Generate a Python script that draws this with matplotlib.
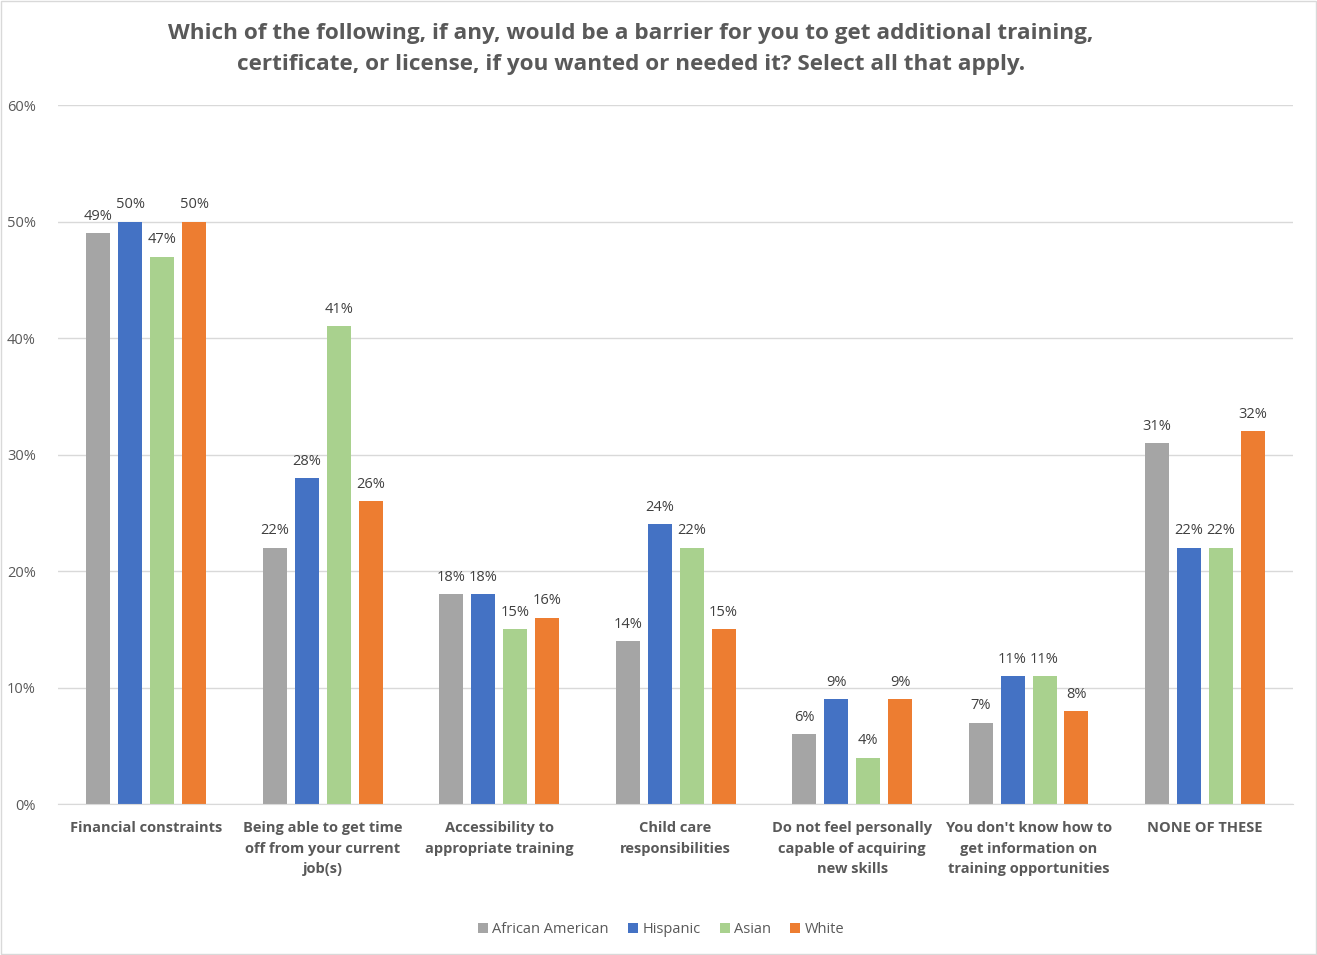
import numpy as np
import matplotlib.pyplot as plt

categories = ['Financial constraints',
              'Being able to get time\noff from your current\njob(s)',
              'Accessibility to\nappropriate training',
              'Child care\nresponsibilities',
              'Do not feel personally\ncapable of acquiring\nnew skills',
              "You don't know how to\nget information on\ntraining opportunities",
              'NONE OF THESE']
series = ['African American', 'Hispanic', 'Asian', 'White']
african_american = [49, 22, 18, 14, 6, 7, 31]
hispanic = [50, 28, 18, 24, 9, 11, 22]
asian = [47, 41, 15, 22, 4, 11, 22]
white = [50, 26, 16, 15, 9, 8, 32]
colors = ['#A5A5A5', '#4472C4', '#A9D18E', '#ED7D31']

plt.rcParams['font.family'] = ['Open Sans', 'DejaVu Sans']
txt = '#595959'

fig = plt.figure(figsize=(13.17, 9.55), dpi=100)
ax = fig.add_axes([0.044, 0.158, 0.938, 0.732])

x = np.arange(len(categories))
pitch = 0.181
width = 0.136
for i, (name, vals) in enumerate(zip(series, [african_american, hispanic, asian, white])):
    pos = x + (i - 1.5) * pitch
    bars = ax.bar(pos, vals, width, color=colors[i], label=name, zorder=3)
    for b, v in zip(bars, vals):
        ax.text(b.get_x() + b.get_width() / 2, v + 0.8, f'{v}%', ha='center', va='bottom',
                fontsize=10.5, color='#404040')

ax.set_xlim(-0.5, len(categories) - 0.5)
ax.set_ylim(0, 60)
ax.set_yticks(range(0, 61, 10))
ax.set_yticklabels([f'{t}%' for t in range(0, 61, 10)], color=txt, fontsize=10.5)
ax.yaxis.grid(True, color='#D9D9D9', linewidth=1, zorder=0)
ax.tick_params(axis='y', length=0, pad=16)
ax.set_xticks(x)
ax.set_xticklabels(categories, color=txt, fontsize=10.5, fontweight='bold', linespacing=1.62)
ax.tick_params(axis='x', length=0, pad=12)
for s in ['top', 'right', 'left']:
    ax.spines[s].set_visible(False)
ax.spines['bottom'].set_color('#D9D9D9')
ax.spines['bottom'].set_zorder(4)

fig.text(0.479, 0.949, 'Which of the following, if any, would be a barrier for you to get additional training,\n'
         'certificate, or license, if you wanted or needed it? Select all that apply.',
         ha='center', va='center', fontsize=16.2, fontweight='bold', color=txt, linespacing=1.6)

fig.legend(loc='center', bbox_to_anchor=(0.502, 0.027), ncol=4, frameon=False, fontsize=10.5,
           labelcolor=txt, handlelength=0.7, handleheight=0.7, handletextpad=0.3, columnspacing=1.3)

fig.patches.append(plt.Rectangle((0.001, 0.001), 0.998, 0.998, transform=fig.transFigure,
                                 fill=False, edgecolor='#D9D9D9', linewidth=1))

fig.savefig('out.png', dpi=100)
